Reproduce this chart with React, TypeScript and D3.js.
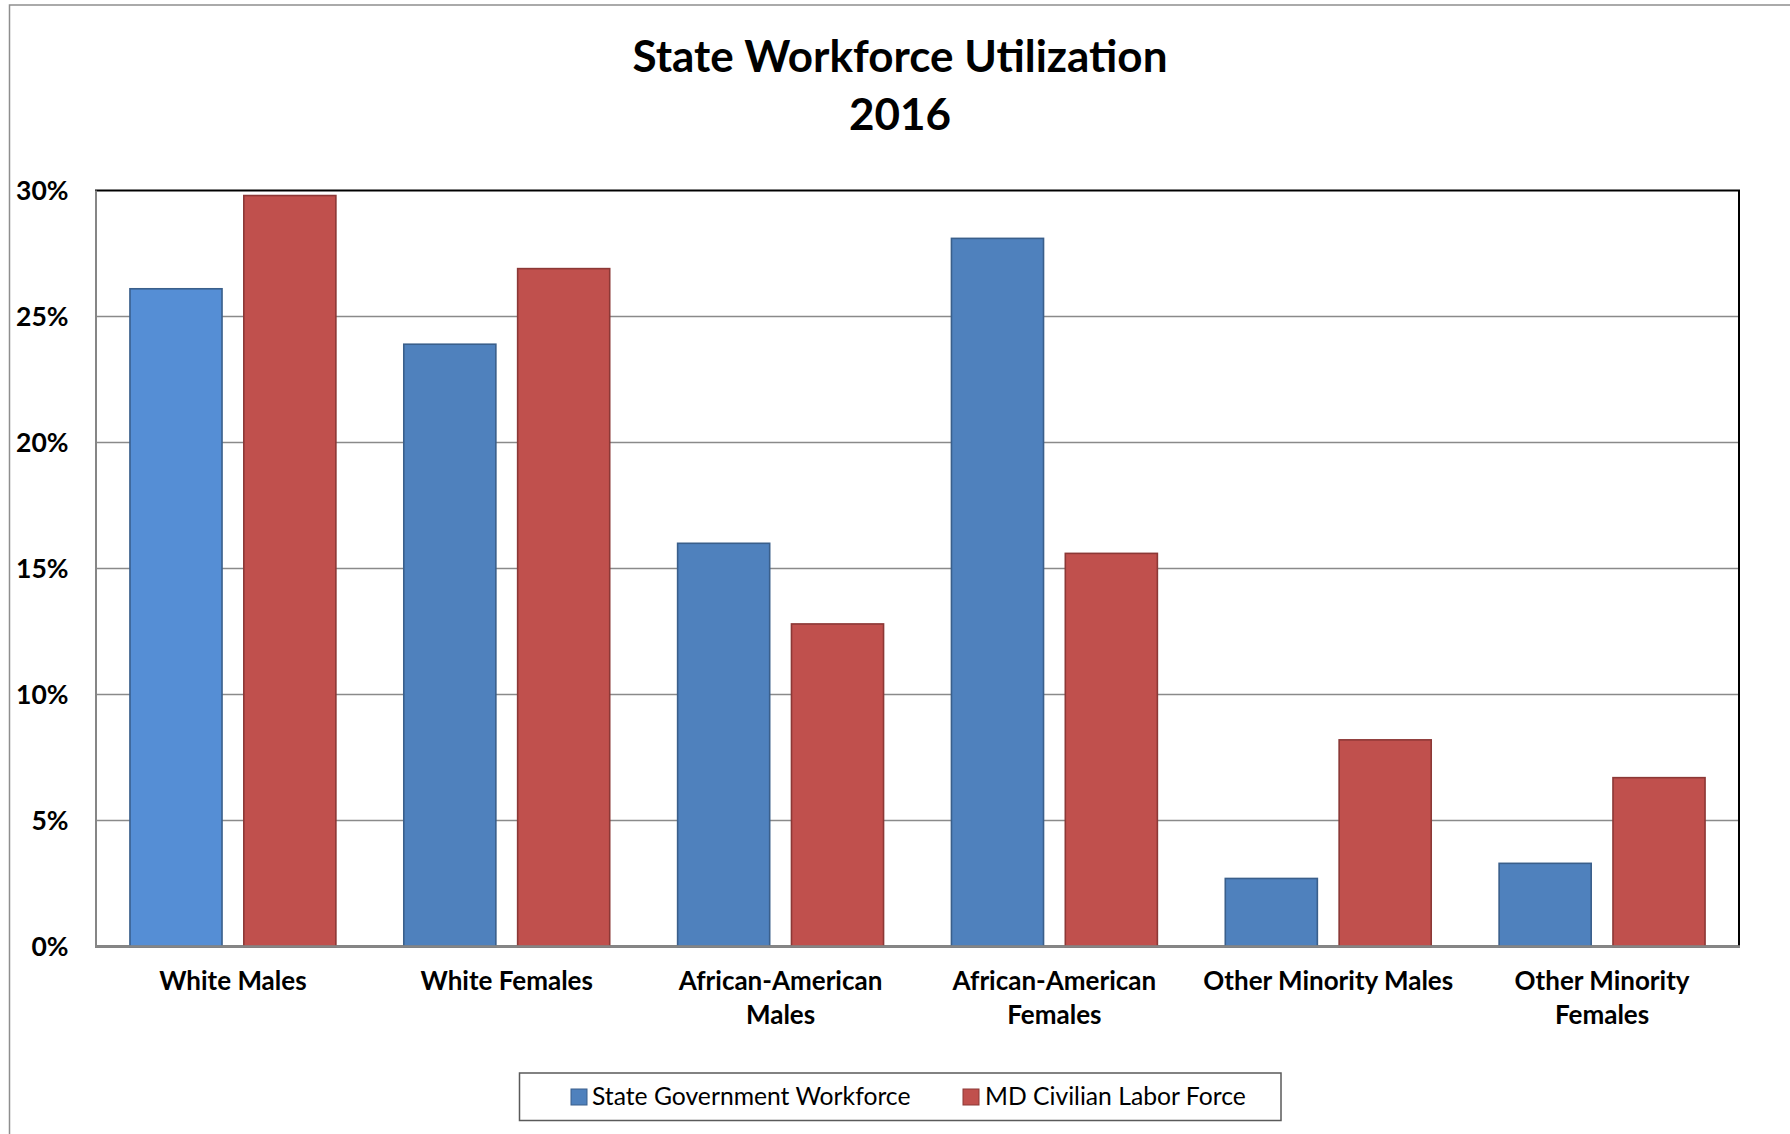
import React from "react";
import * as d3 from "d3";

const categories: string[][] = [
  ["White Males"],
  ["White Females"],
  ["African-American", "Males"],
  ["African-American", "Females"],
  ["Other Minority Males"],
  ["Other Minority", "Females"],
];
const seriesNames = ["State Government Workforce", "MD Civilian Labor Force"];
const stateGov = [26.1, 23.9, 16.0, 28.1, 2.7, 3.3];
const mdLabor = [29.8, 26.9, 12.8, 15.6, 8.2, 6.7];
const yTicks = [0, 5, 10, 15, 20, 25, 30];
const titleLines = ["State Workforce Utilization", "2016"];

const W = 1790;
const H = 1134;
const FONT = "Lato, 'Open Sans', sans-serif";

export default function App() {
  const plot = { left: 96, right: 1739, top: 190.5, bottom: 946.5 };
  const keys = categories.map((c) => c.join(" "));
  const x0 = d3
    .scaleBand<string>()
    .domain(keys)
    .range([plot.left, plot.right])
    .paddingInner(0.248)
    .paddingOuter(0.124);
  const x1 = d3
    .scaleBand<string>()
    .domain(seriesNames)
    .range([0, x0.bandwidth()])
    .paddingInner(0.1914)
    .paddingOuter(0);
  const y = d3.scaleLinear().domain([0, 30]).range([plot.bottom, plot.top]);
  const step = x0.step();
  const bandStart = (i: number) => plot.left + i * step;

  const series = [
    { name: seriesNames[0], values: stateGov, fill: "#4F81BD", stroke: "#3A5F8B" },
    { name: seriesNames[1], values: mdLabor, fill: "#C0504D", stroke: "#8C3836" },
  ];

  return (
    <div style={{ position: "absolute", left: 0, top: 0 }}>
      <svg width={W} height={H} style={{ display: "block", background: "#fff" }}>
        <rect x={0} y={0} width={W} height={H} fill="#fff" />
        {/* outer chart border (cropped on right and bottom) */}
        <rect x={9.5} y={5} width={W + 20} height={H + 20} fill="none" stroke="#8e8e8e" strokeWidth={1.5} />
        {/* title */}
        {titleLines.map((t, i) => (
          <text
            key={t}
            x={900}
            y={71.5 + i * 58.5}
            textAnchor="middle"
            fontFamily={FONT}
            fontWeight={700}
            fontSize={44}
            fill="#000"
          >
            {t}
          </text>
        ))}
        {/* gridlines */}
        {yTicks
          .filter((t) => t > 0 && t < 30)
          .map((t) => (
            <line key={t} x1={plot.left} x2={plot.right} y1={y(t)} y2={y(t)} stroke="#8a8a8a" strokeWidth={1.3} />
          ))}
        {/* plot area border */}
        <rect
          x={plot.left}
          y={plot.top}
          width={plot.right - plot.left}
          height={plot.bottom - plot.top}
          fill="none"
          stroke="#000"
          strokeWidth={2}
        />
        {/* bars */}
        {series.map((s, si) =>
          s.values.map((v, i) => {
            const bx = (x0(keys[i]) as number) + (x1(s.name) as number);
            const fill = si === 0 && i === 0 ? "#558ED5" : s.fill;
            return (
              <rect
                key={s.name + i}
                x={bx}
                y={y(v)}
                width={x1.bandwidth()}
                height={y(0) - y(v)}
                fill={fill}
                stroke={s.stroke}
                strokeWidth={1.6}
              />
            );
          })
        )}
        {/* axes lines */}
        <line x1={plot.left} x2={plot.left} y1={plot.top} y2={plot.bottom} stroke="#868686" strokeWidth={2} />
        <line x1={plot.left - 1} x2={plot.right + 1} y1={plot.bottom} y2={plot.bottom} stroke="#868686" strokeWidth={2.5} />
        {/* y tick labels */}
        {yTicks.map((t) => (
          <text
            key={t}
            x={68.5}
            y={y(t) + 9.5}
            textAnchor="end"
            fontFamily={FONT}
            fontWeight={700}
            fontSize={26.5}
            fill="#000"
          >
            {`${t}%`}
          </text>
        ))}
        {/* category labels */}
        {categories.map((lines, i) => (
          <text
            key={keys[i]}
            textAnchor="middle"
            fontFamily={FONT}
            fontWeight={700}
            fontSize={26}
            fill="#000"
          >
            {lines.map((ln, li) => (
              <tspan key={ln} x={bandStart(i) + step / 2} y={990 + li * 33.5}>
                {ln}
              </tspan>
            ))}
          </text>
        ))}
        {/* legend */}
        <rect x={519.5} y={1073} width={761.5} height={47.5} fill="#fff" stroke="#5a5a5a" strokeWidth={1.5} />
        {[
          { sx: 571, tx: 592 },
          { sx: 963, tx: 985 },
        ].map((p, i) => (
          <g key={series[i].name}>
            <rect x={p.sx} y={1089} width={16} height={16} fill={series[i].fill} stroke={series[i].stroke} strokeWidth={1} />
            <text x={p.tx} y={1105} fontFamily={FONT} fontSize={24.7} fill="#000">
              {series[i].name}
            </text>
          </g>
        ))}
      </svg>
    </div>
  );
}
